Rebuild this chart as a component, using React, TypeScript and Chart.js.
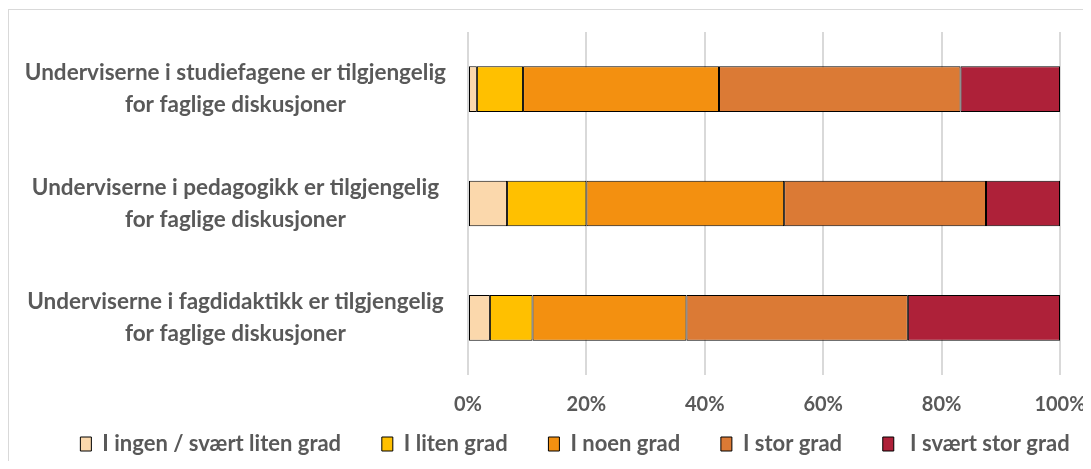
import React, { useEffect, useRef } from "react";
import { Chart, registerables } from "chart.js";

Chart.register(...registerables);

const categories: string[][] = [
  ["Underviserne i studiefagene er tilgjengelig", "for faglige diskusjoner"],
  ["Underviserne i pedagogikk er tilgjengelig", "for faglige diskusjoner"],
  ["Underviserne i fagdidaktikk er tilgjengelig", "for faglige diskusjoner"],
];

const seriesNames = [
  "I ingen / svært liten grad",
  "I liten grad",
  "I noen grad",
  "I stor grad",
  " I svært stor grad",
];

const ingenValues = [1.5, 6.6, 3.7];
const litenValues = [7.8, 13.4, 7.2];
const noenValues = [33.1, 33.4, 26.0];
const storValues = [40.8, 34.1, 37.4];
const svaertStorValues = [16.8, 12.5, 25.7];

const seriesColors = ["#FBD8AC", "#FFC000", "#F39010", "#DB7A35", "#AE2139"];

const xTicks = [0, 20, 40, 60, 80, 100];

const FONT = "Lato";
const TEXT_COLOR = "#595959";
const CANVAS_W = 1132;
const CANVAS_H = 452;
const LEGEND_GAP = "     ";

export default function App() {
  const ref = useRef<HTMLCanvasElement | null>(null);

  useEffect(() => {
    if (!ref.current) return;
    const values = [ingenValues, litenValues, noenValues, storValues, svaertStorValues];
    const chart = new Chart(ref.current, {
      type: "bar",
      data: {
        labels: categories,
        datasets: values.map((v, i) => ({
          label: seriesNames[i],
          data: v,
          backgroundColor: seriesColors[i],
          borderColor: "#000000",
          borderWidth: 1,
          borderSkipped: false,
          barPercentage: 0.4,
          categoryPercentage: 1,
        })),
      },
      options: {
        indexAxis: "y",
        responsive: false,
        animation: false,
        layout: { padding: { top: 22, left: 0, right: 0, bottom: 0 } },
        plugins: {
          tooltip: { enabled: false },
          legend: {
            position: "bottom",
            maxHeight: 43,
            labels: {
              color: TEXT_COLOR,
              font: { family: FONT, size: 22, weight: "bold" },
              boxWidth: 11,
              boxHeight: 14,
              padding: 14,
              generateLabels: (c: any) => {
                const items = Chart.defaults.plugins.legend.labels.generateLabels(c);
                return items.map((it: any, i: number) => ({
                  ...it,
                  text: i < items.length - 1 ? it.text + LEGEND_GAP : it.text,
                }));
              },
            },
          },
        },
        scales: {
          x: {
            stacked: true,
            min: 0,
            max: 100,
            afterBuildTicks: (scale: any) => {
              scale.ticks = xTicks.map((v) => ({ value: v }));
            },
            afterFit: (scale: any) => {
              scale.height = 44;
              scale.paddingLeft = 0;
              scale.paddingRight = 81;
            },
            grid: { color: "#D9D9D9", lineWidth: 2, drawTicks: false },
            border: { display: false },
            ticks: {
              color: TEXT_COLOR,
              font: { family: FONT, size: 20, weight: "bold" },
              padding: 18,
              callback: (v: any) => v + "%",
            },
          },
          y: {
            stacked: true,
            afterFit: (scale: any) => {
              scale.width = 459;
              scale.paddingTop = 0;
              scale.paddingBottom = 0;
            },
            grid: { display: false, drawTicks: false },
            border: { display: false },
            ticks: {
              color: TEXT_COLOR,
              crossAlign: "center",
              padding: 22,
              font: { family: FONT, size: 22.5, weight: "bold", lineHeight: 1.42 },
            },
          },
        },
      },
    } as any);
    return () => chart.destroy();
  }, []);

  return (
    <div
      style={{
        position: "relative",
        top: 1,
        width: 1082,
        height: CANVAS_H,
        overflow: "hidden",
        borderTop: "1px solid #D9D9D9",
        borderLeft: "1px solid #D9D9D9",
      }}
    >
      <canvas ref={ref} width={CANVAS_W} height={CANVAS_H} style={{ display: "block" }} />
    </div>
  );
}
